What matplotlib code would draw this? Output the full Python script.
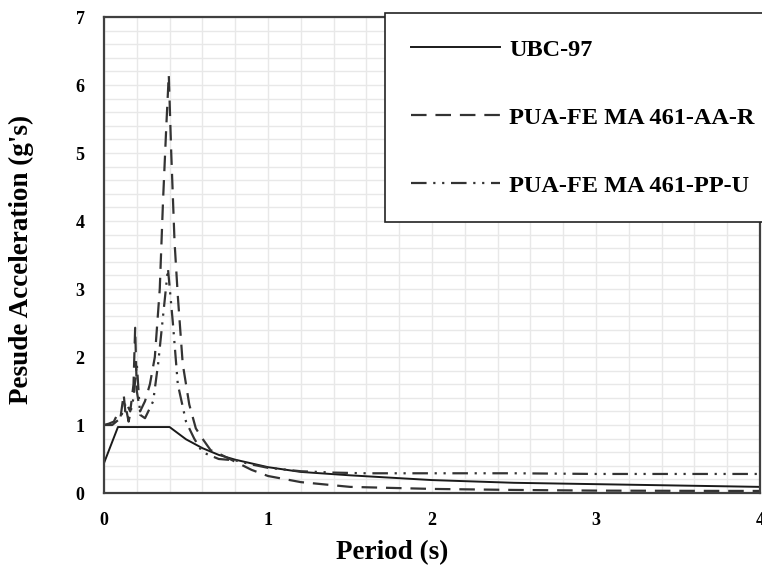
import matplotlib
matplotlib.use('Agg')
import matplotlib.pyplot as plt
import numpy as np

plt.rcParams['font.family'] = ['Liberation Serif', 'DejaVu Serif']
plt.rcParams['font.weight'] = 'bold'

# UBC-97 design spectrum
ubc_t = [0, 0.085, 0.4, 0.5, 0.6, 0.7, 0.8, 1.0, 1.2, 1.5, 2.0, 2.5, 3.0, 3.5, 4.0]
ubc_v = [0.44, 0.97, 0.97, 0.79, 0.66, 0.56, 0.49, 0.38, 0.31, 0.26, 0.19, 0.15,
         0.13, 0.11, 0.09]

# PUA-FEMA 461-AA-R
aar_t = [0, 0.03, 0.06, 0.08, 0.1, 0.12, 0.13, 0.14, 0.16, 0.18, 0.19, 0.2, 0.22,
         0.25, 0.28, 0.31, 0.34, 0.36, 0.38, 0.395, 0.41, 0.43, 0.45, 0.48, 0.52,
         0.56, 0.6, 0.65, 0.7, 0.75, 0.8, 0.9, 1.0, 1.2, 1.5, 2.0, 2.5, 3.0, 3.5, 4.0]
aar_v = [1.0, 1.02, 1.05, 1.15, 1.1, 1.45, 1.2, 1.3, 1.2, 1.6, 2.43, 1.5, 1.2,
         1.35, 1.6, 2.0, 3.0, 4.3, 5.4, 6.15, 5.0, 3.7, 2.9, 1.9, 1.3,
         0.95, 0.8, 0.63, 0.58, 0.52, 0.46, 0.34, 0.25, 0.16, 0.09, 0.06, 0.045, 0.035,
         0.032, 0.03]

# PUA-FEMA 461-PP-U
ppu_t = [0, 0.05, 0.1, 0.13, 0.15, 0.18, 0.2, 0.22, 0.25, 0.3, 0.33, 0.36, 0.39,
         0.42, 0.45, 0.5, 0.55, 0.6, 0.7, 0.8, 0.9, 1.0, 1.2, 1.4, 1.6, 2.0, 2.5,
         3.0, 3.5, 4.0]
ppu_v = [1.0, 1.0, 1.1, 1.3, 1.05, 1.4, 1.9, 1.15, 1.1, 1.35, 1.9, 2.6, 3.3,
         2.5, 1.6, 1.05, 0.8, 0.6, 0.5, 0.48, 0.42, 0.37, 0.32, 0.3, 0.29, 0.29, 0.29,
         0.28, 0.28, 0.28]

labels = ['UBC-97', 'PUA-FE MA 461-AA-R', 'PUA-FE MA 461-PP-U']

fig = plt.figure(figsize=(7.62, 5.72), dpi=100)
ax = fig.add_axes([104 / 762, 1 - 493 / 572, 656 / 762, 476 / 572])

ax.plot(ubc_t, ubc_v, color='#1a1a1a', lw=1.4, label=labels[0])
l2, = ax.plot(aar_t, aar_v, color='#333333', lw=1.6, label=labels[1])
l2.set_dashes((7, 4))
l3, = ax.plot(ppu_t, ppu_v, color='#333333', lw=1.6, label=labels[2])
l3.set_dashes((7, 3, 1, 3, 1, 3))

ax.set_xlim(0, 4)
ax.set_ylim(0, 7)
ax.set_xticks(np.arange(0, 5, 1))
ax.set_yticks(np.arange(0, 8, 1))
ax.set_xticks(np.arange(0, 4.01, 0.2), minor=True)
ax.set_yticks(np.arange(0, 7.01, 0.2), minor=True)
ax.grid(which='both', color='#e8e8e8', lw=1.0)
ax.set_axisbelow(True)
ax.tick_params(which='both', length=0)
ax.tick_params(axis='x', pad=14, labelsize=13)
ax.tick_params(axis='y', pad=14, labelsize=13)
for s in ax.spines.values():
    s.set_color('#404040')
    s.set_linewidth(1.6)

ax.set_xlabel('Period (s)', fontsize=19.5, fontweight='bold')
ax.set_ylabel("Pesude Acceleration (g's)", fontsize=19.5, fontweight='bold')
ax.xaxis.set_label_coords((392 - 104) / 656, (493 - 540) / 476)
ax.yaxis.set_label_coords((34 - 104) / 656, 0.49)

leg = ax.legend(loc='upper left',
                bbox_to_anchor=(385 / 762, 1 - 218 / 572, 380 / 762, 205 / 572),
                bbox_transform=fig.transFigure, mode='expand',
                fancybox=False, frameon=True,
                edgecolor='#222222', framealpha=1, fontsize=17.5,
                handlelength=3.7, handletextpad=0.35, borderpad=1.05,
                labelspacing=1.9, borderaxespad=0)
leg.get_frame().set_linewidth(1.2)
for t in leg.get_texts():
    t.set_fontweight('bold')

fig.savefig('out.png', dpi=100)
